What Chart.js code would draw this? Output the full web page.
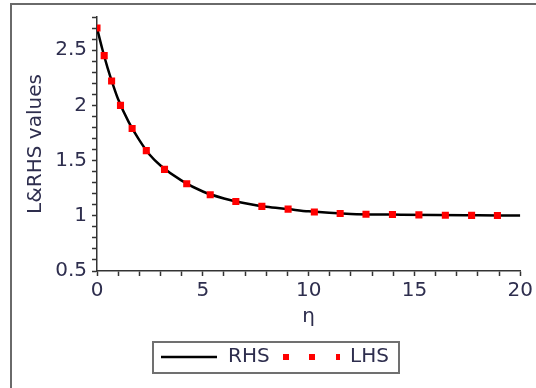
<!DOCTYPE html>
<html>
<head>
<meta charset="utf-8">
<script src="https://cdn.jsdelivr.net/npm/chart.js@4"></script>
<style>
  html, body { margin: 0; padding: 0; background: #ffffff; }
  #grafico { display: block; }
</style>
</head>
<body>
<canvas id="grafico" width="536" height="388"></canvas>
<script>
// valores (eta en el eje x)
const lhsEta = [0, 0.34, 0.69, 1.11, 1.66, 2.33, 3.19, 4.24, 5.35, 6.56, 7.79, 9.03, 10.27, 11.49, 12.71, 13.96, 15.21, 16.46, 17.70, 18.92];
const lhsValores = [2.70, 2.45, 2.22, 2.00, 1.79, 1.59, 1.42, 1.29, 1.19, 1.13, 1.085, 1.06, 1.035, 1.02, 1.014, 1.011, 1.008, 1.005, 1.004, 1.003];

const rhsEta = [0, 0.25, 0.5, 0.75, 1, 1.5, 2, 2.5, 3, 4, 5, 6, 7, 8, 9, 10, 12, 14, 16, 18, 20];
const rhsValores = [2.70, 2.51, 2.34, 2.19, 2.055, 1.848, 1.685, 1.55, 1.455, 1.318, 1.22, 1.157, 1.114, 1.081, 1.061, 1.040, 1.017, 1.011, 1.006, 1.004, 1.002];

const etiquetasX = [0, 5, 10, 15, 20];
const etiquetasY = [0.5, 1, 1.5, 2, 2.5];
const nombresSeries = ['RHS', 'LHS'];
const tituloY = 'L&RHS values';
const tituloX = 'η';

const colorTexto = '#2e2e4e';
const fuente = 'DejaVu Sans';

function esEtiqueta(v, lista) {
    return lista.some(e => Math.abs(e - v) < 1e-6);
}

// marco gris (solo izquierda y arriba, como la captura)
const marco = {
    id: 'marco',
    beforeDraw(chart) {
        const ctx = chart.ctx;
        ctx.save();
        ctx.strokeStyle = '#6a6a6a';
        ctx.lineWidth = 2;
        ctx.beginPath();
        ctx.moveTo(11, 388);
        ctx.lineTo(11, 4);
        ctx.lineTo(536, 4);
        ctx.stroke();
        ctx.restore();
    }
};

// leyenda con caja, estilo Maple
const leyenda = {
    id: 'leyenda',
    afterDraw(chart) {
        const ctx = chart.ctx;
        const dsRHS = chart.data.datasets[1];
        const dsLHS = chart.data.datasets[0];
        ctx.save();
        ctx.strokeStyle = '#707070';
        ctx.lineWidth = 2;
        ctx.strokeRect(153, 342, 246, 31);

        ctx.strokeStyle = dsRHS.borderColor;
        ctx.lineWidth = 2.5;
        ctx.beginPath();
        ctx.moveTo(161, 357);
        ctx.lineTo(217, 357);
        ctx.stroke();

        ctx.fillStyle = colorTexto;
        ctx.font = '20px "' + fuente + '"';
        ctx.textBaseline = 'middle';
        ctx.fillText(nombresSeries[0], 228, 357);

        ctx.fillStyle = dsLHS.backgroundColor;
        ctx.fillRect(283, 354, 6, 6);
        ctx.fillRect(309, 354, 6, 6);
        ctx.fillRect(336, 354, 4, 6);

        ctx.fillStyle = colorTexto;
        ctx.fillText(nombresSeries[1], 350, 357);
        ctx.restore();
    }
};

const ctx = document.getElementById('grafico').getContext('2d');

new Chart(ctx, {
    type: 'scatter',
    data: {
        datasets: [{
            label: nombresSeries[1],
            data: lhsEta.map((x, i) => ({ x: x, y: lhsValores[i] })),
            showLine: false,
            pointStyle: 'rect',
            pointRadius: 5,
            backgroundColor: '#ff0000',
            borderColor: '#ff0000',
            borderWidth: 0
        }, {
            label: nombresSeries[0],
            data: rhsEta.map((x, i) => ({ x: x, y: rhsValores[i] })),
            showLine: true,
            cubicInterpolationMode: 'monotone',
            pointRadius: 0,
            borderColor: '#000000',
            borderWidth: 2.5
        }]
    },
    options: {
        responsive: false,
        animation: false,
        layout: { padding: { left: 0, top: 14, right: 14, bottom: 57 } },
        plugins: {
            legend: { display: false },
            tooltip: { enabled: false }
        },
        scales: {
            x: {
                type: 'linear',
                min: 0,
                max: 20,
                afterFit: (escala) => { escala.height = 60; },
                border: { color: '#333333', width: 1.5 },
                grid: { drawOnChartArea: false, tickLength: 5, tickColor: '#333333', tickWidth: 1.5 },
                ticks: {
                    stepSize: 1,
                    autoSkip: false,
                    maxRotation: 0,
                    padding: 3,
                    color: colorTexto,
                    font: { family: fuente, size: 20 },
                    callback: (v) => esEtiqueta(v, etiquetasX) ? String(v) : ''
                },
                title: {
                    display: true,
                    text: tituloX,
                    color: colorTexto,
                    font: { family: fuente, size: 20 },
                    padding: { top: 0, bottom: 2 }
                }
            },
            y: {
                type: 'linear',
                min: 0.5,
                max: 2.8,
                afterFit: (escala) => { escala.width = 97; },
                border: { color: '#333333', width: 1.5 },
                grid: { drawOnChartArea: false, tickLength: 5, tickColor: '#333333', tickWidth: 1.5 },
                ticks: {
                    stepSize: 0.1,
                    autoSkip: false,
                    padding: 5,
                    color: colorTexto,
                    font: { family: fuente, size: 20 },
                    callback: (v) => esEtiqueta(v, etiquetasY) ? String(Math.round(v * 10) / 10) : ''
                },
                title: {
                    display: true,
                    text: tituloY,
                    color: colorTexto,
                    font: { family: fuente, size: 20 },
                    padding: { top: 24, bottom: 0 }
                }
            }
        }
    },
    plugins: [marco, leyenda]
});
</script>
</body>
</html>
